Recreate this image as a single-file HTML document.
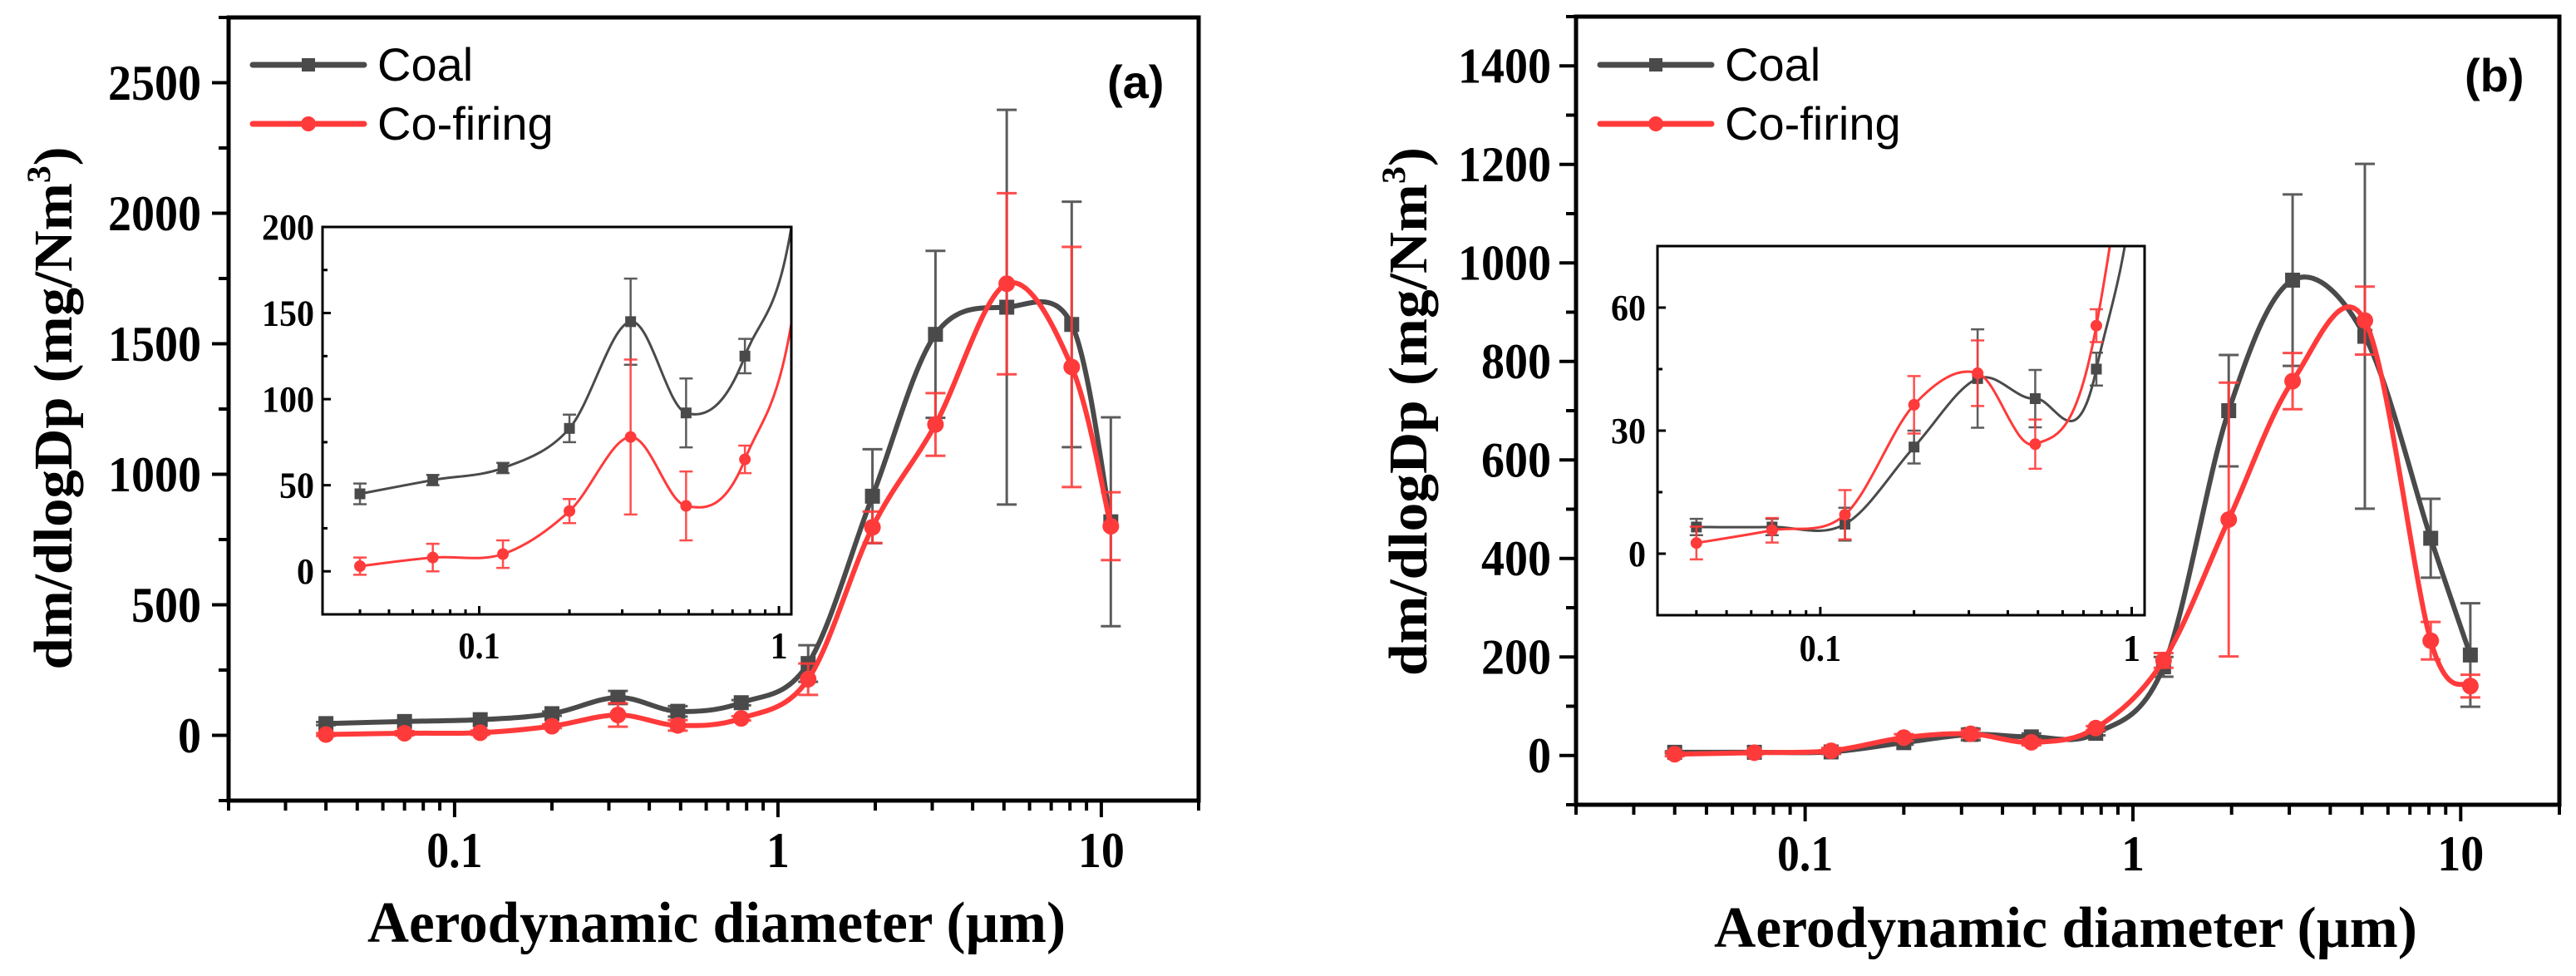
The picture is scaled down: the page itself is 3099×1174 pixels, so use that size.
<!DOCTYPE html>
<html><head><meta charset="utf-8">
<style>
html,body{margin:0;padding:0;background:#fff;}
svg{display:block;}
.tl{font-family:"Liberation Serif",serif;font-weight:bold;fill:#000;}
.lg{font-family:"Liberation Sans",sans-serif;fill:#000;}
</style></head>
<body>
<svg id="fig" width="3099" height="1174" viewBox="0 0 3099 1174" xmlns="http://www.w3.org/2000/svg"></svg>
<script>
// ---------- data ----------
const diameters = [0.04, 0.07, 0.12, 0.2, 0.32, 0.49, 0.77, 1.24, 1.96, 3.07, 5.1, 8.1, 10.7];
// panel (a)
const coalA = [45, 53, 60, 83, 145, 92, 125, 275, 916, 1536, 1640, 1574, 818];
const coalAErr = [6, 3, 3, 8, 25, 20, 10, 70, 180, 320, 756, 470, 400];
const cofireA = [3, 8, 10, 35, 78, 38, 65, 215, 797, 1191, 1730, 1411, 801];
const cofireAErr = [5, 8, 8, 7, 45, 20, 8, 60, 60, 120, 347, 460, 130];
// panel (b)
const coalB = [6.5, 6.5, 7.2, 26, 42.7, 37.8, 45, 180, 700, 965, 851, 441, 204];
const coalBErr = [2, 2, 4, 4, 12, 7, 4, 20, 113, 174, 350, 80, 105];
const cofireB = [2.6, 5.7, 9.5, 36.3, 44, 26.7, 55.6, 193, 479, 760, 883, 233, 141];
const cofireBErr = [4, 3, 6, 7, 8, 6, 4, 15, 278, 57, 69, 38, 23];
// ticks
const mainXTicks = [0.1, 1, 10];
const mainXTickLabels = ["0.1", "1", "10"];
const yTicksA = [0, 500, 1000, 1500, 2000, 2500];
const yTicksB = [0, 200, 400, 600, 800, 1000, 1200, 1400];
const insetXTicks = [0.1, 1];
const insetXTickLabels = ["0.1", "1"];
const insetYTicksA = [0, 50, 100, 150, 200];
const insetYTicksB = [0, 30, 60];
const seriesNames = ["Coal", "Co-firing"];

// ---------- helpers ----------
const NS = "http://www.w3.org/2000/svg";
const fig = document.getElementById("fig");
const COAL = "#4a4a4a", RED = "#ff3a3a";
function mk(tag, attrs, parent) {
  const e = document.createElementNS(NS, tag);
  for (const k in attrs) e.setAttribute(k, attrs[k]);
  parent.appendChild(e);
  return e;
}
function logScale(d0, d1, p0, p1) {
  const a = Math.log10(d0), b = Math.log10(d1);
  return v => p0 + (Math.log10(v) - a) / (b - a) * (p1 - p0);
}
function linScale(d0, d1, p0, p1) { return v => p0 + (v - d0) / (d1 - d0) * (p1 - p0); }
function smoothPath(pts) {
  let d = "M" + pts[0][0] + "," + pts[0][1];
  for (let i = 0; i < pts.length - 1; i++) {
    const p0 = pts[Math.max(i - 1, 0)], p1 = pts[i], p2 = pts[i + 1], p3 = pts[Math.min(i + 2, pts.length - 1)];
    const t = 1 / 6;
    const c1x = p1[0] + (p2[0] - p0[0]) * t, c1y = p1[1] + (p2[1] - p0[1]) * t;
    const c2x = p2[0] - (p3[0] - p1[0]) * t, c2y = p2[1] - (p3[1] - p1[1]) * t;
    d += " C" + c1x + "," + c1y + " " + c2x + "," + c2y + " " + p2[0] + "," + p2[1];
  }
  return d;
}
let clipId = 0;
function drawSeries(g, xs, ys, vals, errs, color, marker, o) {
  const pts = diameters.map((d, i) => [xs(d), ys(vals[i])]);
  diameters.forEach((d, i) => {
    const x = xs(d), y1 = ys(vals[i] + errs[i]), y2 = ys(vals[i] - errs[i]);
    const eb = mk("path", {d: `M${x},${y1}V${y2}M${x - o.cap},${y1}h${2 * o.cap}M${x - o.cap},${y2}h${2 * o.cap}`,
      stroke: color, "stroke-width": o.ew, fill: "none", opacity: 0.9}, g);
    
    
  });
  const line = mk("path", {d: smoothPath(pts), stroke: color, "stroke-width": o.lw, fill: "none", "stroke-linejoin": "round"}, g);
  
  
  pts.forEach(p => {
    let m;
    if (marker === "sq") m = mk("rect", {x: p[0] - o.ms / 2, y: p[1] - o.ms / 2, width: o.ms, height: o.ms, fill: color}, g);
    else m = mk("circle", {cx: p[0], cy: p[1], r: o.ms / 2 + 1, fill: color}, g);
    
    
  });
}
function axes(g, box, xs, ys, yTicks, yMinorStep, yRange, xTicks, xLabels, o) {
  const fr = mk("rect", {x: box.l, y: box.t, width: box.r - box.l, height: box.b - box.t, fill: "none", stroke: "#000", "stroke-width": o.fw}, g);
  
  
  const dir = o.inward ? 1 : -1;
  for (let v = yRange[0]; v <= yRange[1] + 1e-9; v += yMinorStep) {
    const y = ys(v);
    const major = yTicks.some(t => Math.abs(t - v) < 1e-9);
    mk("line", {x1: box.l, x2: box.l + dir * (major ? o.tl : o.tl * 0.6), y1: y, y2: y, stroke: "#000", "stroke-width": o.tw}, g);
  }
  yTicks.forEach(v => {
    const s = String(v);
    const t = mk("text", {x: box.l - o.ylOff, y: ys(v) + o.yfs * 0.34, "text-anchor": "end", "font-size": o.yfs, class: "tl",
      textLength: s.length * o.dw, lengthAdjust: "spacingAndGlyphs"}, g);
    t.textContent = s;
    
    
  });
  const lo = Math.floor(Math.log10(o.xRange[0])), hi = Math.ceil(Math.log10(o.xRange[1]));
  for (let e = lo; e <= hi; e++) for (let k = 1; k <= 9; k++) {
    const v = k * Math.pow(10, e);
    if (v < o.xRange[0] * 0.999 || v > o.xRange[1] * 1.001) continue;
    const x = xs(v);
    const len = k === 1 ? o.tl : o.tl * 0.6;
    mk("line", {x1: x, x2: x, y1: box.b, y2: box.b - dir * len, stroke: "#000", "stroke-width": o.tw}, g);
  }
  xTicks.forEach((v, i) => {
    const s = xLabels[i];
    const w = s.replace(".", "").length * o.dw + (s.includes(".") ? o.dw * 0.4 : 0);
    const t = mk("text", {x: xs(v), y: o.xlY, "text-anchor": "middle", "font-size": o.xfs, class: "tl",
      textLength: w, lengthAdjust: "spacingAndGlyphs"}, g);
    t.textContent = s;
    
    
  });
}

function panel(cfg) {
  const g = mk("g", {}, fig);
  
  
  const box = cfg.box;
  const xs = logScale(0.02, 20, box.l, box.r);
  const ys = linScale(cfg.yRange[0], cfg.yRange[1], box.b, box.t);
  const cid = "clip" + (clipId++);
  const cp = mk("clipPath", {id: cid}, g);
  mk("rect", {x: box.l, y: box.t, width: box.r - box.l, height: box.b - box.t}, cp);
  const dg = mk("g", {"clip-path": `url(#${cid})`}, g);
  drawSeries(dg, xs, ys, cfg.coal, cfg.coalErr, COAL, "sq", {lw: 6, ew: 3, cap: 12, ms: 18});
  drawSeries(dg, xs, ys, cfg.cof, cfg.cofErr, RED, "ci", {lw: 6, ew: 3, cap: 12, ms: 18});
  axes(g, box, xs, ys, cfg.yTicks, cfg.yMinor, cfg.yRange, mainXTicks, mainXTickLabels,
    {fw: 5, tw: 4, tl: 20, ylOff: box.l - cfg.ylRight, yfs: 60, xfs: 60, dw: 28, xlY: cfg.xlY, xRange: [0.02, 20], inward: false});
  const ib = cfg.ibox;
  const ixs = logScale(0.03, 1.1, ib.l, ib.r);
  const iys = linScale(cfg.iyRange[0], cfg.iyRange[1], ib.b, ib.t);
  const ig = mk("g", {}, g);
  
  
  mk("rect", {x: ib.l, y: ib.t, width: ib.r - ib.l, height: ib.b - ib.t, fill: "#fff"}, ig);
  const icid = "clip" + (clipId++);
  const icp = mk("clipPath", {id: icid}, ig);
  mk("rect", {x: ib.l, y: ib.t, width: ib.r - ib.l, height: ib.b - ib.t}, icp);
  const idg = mk("g", {"clip-path": `url(#${icid})`}, ig);
  drawSeries(idg, ixs, iys, cfg.coal, cfg.coalErr, COAL, "sq", {lw: 3, ew: 2.5, cap: 8, ms: 13});
  drawSeries(idg, ixs, iys, cfg.cof, cfg.cofErr, RED, "ci", {lw: 3, ew: 2.5, cap: 8, ms: 12});
  axes(ig, ib, ixs, iys, cfg.iyTicks, cfg.iyMinor, cfg.iyRange, insetXTicks, insetXTickLabels,
    {fw: 3, tw: 3, tl: 10, ylOff: ib.l - cfg.iylRight, yfs: 44, xfs: 46, dw: 21, xlY: cfg.ixlY, xRange: [0.03, 1.1], inward: true});
  [[COAL, "sq", 78], [RED, "ci", 149]].forEach((s, i) => {
    const lg = mk("g", {}, g);
    
    
    const x0 = box.l + 29, x1 = box.l + 163, y = s[2];
    mk("line", {x1: x0, x2: x1, y1: y, y2: y, stroke: s[0], "stroke-width": 7, "stroke-linecap": "round"}, lg);
    if (s[1] === "sq") mk("rect", {x: (x0 + x1) / 2 - 8, y: y - 8, width: 16, height: 16, fill: s[0]}, lg);
    else mk("circle", {cx: (x0 + x1) / 2, cy: y, r: 9, fill: s[0]}, lg);
    const t = mk("text", {x: box.l + 179, y: y + 19, "font-size": 56, class: "lg"}, lg);
    t.textContent = seriesNames[i];
  });
  const pl = mk("text", {x: cfg.plX, y: cfg.plY, "font-size": 56, "font-weight": "bold", class: "lg"}, g);
  pl.textContent = cfg.label;
  
  
  const yt = mk("text", {transform: `translate(${cfg.ytX},${cfg.ytY}) rotate(-90)`, "text-anchor": "middle", "font-size": 66, class: "tl", textLength: cfg.ytLen, lengthAdjust: "spacingAndGlyphs"}, g);
  yt.innerHTML = 'dm/dlogDp (mg/Nm<tspan dy="-26" font-size="40">3</tspan><tspan dy="26">)</tspan>';
  
  
  const xt = mk("text", {x: cfg.xtX, y: cfg.xtY, "text-anchor": "middle", "font-size": 70, class: "tl", textLength: cfg.xtLen, lengthAdjust: "spacingAndGlyphs"}, g);
  xt.textContent = "Aerodynamic diameter (µm)";
  
  
}

panel({name: "panel-a", label: "(a)", box: {l: 275, r: 1442, t: 21, b: 963}, yRange: [-250, 2750], yTicks: yTicksA, yMinor: 250,
  coal: coalA, coalErr: coalAErr, cof: cofireA, cofErr: cofireAErr,
  ylRight: 242, xlY: 1043,
  ibox: {l: 388, r: 952, t: 273, b: 739}, iyRange: [-25, 200], iyTicks: insetYTicksA, iyMinor: 25, iylRight: 378, ixlY: 792,
  plX: 1332, plY: 118, ytX: 86, ytY: 491, ytLen: 629, xtX: 862, xtY: 1133, xtLen: 840});
panel({name: "panel-b", label: "(b)", box: {l: 1896, r: 3079, t: 20, b: 968}, yRange: [-100, 1500], yTicks: yTicksB, yMinor: 100,
  coal: coalB, coalErr: coalBErr, cof: cofireB, cofErr: cofireBErr,
  ylRight: 1866, xlY: 1047,
  ibox: {l: 1994, r: 2580, t: 296, b: 740}, iyRange: [-15, 75], iyTicks: insetYTicksB, iyMinor: 15, iylRight: 1980, ixlY: 795,
  plX: 2965, plY: 110, ytX: 1716, ytY: 495, ytLen: 636, xtX: 2485, xtY: 1139, xtLen: 846});
</script>
</body></html>
